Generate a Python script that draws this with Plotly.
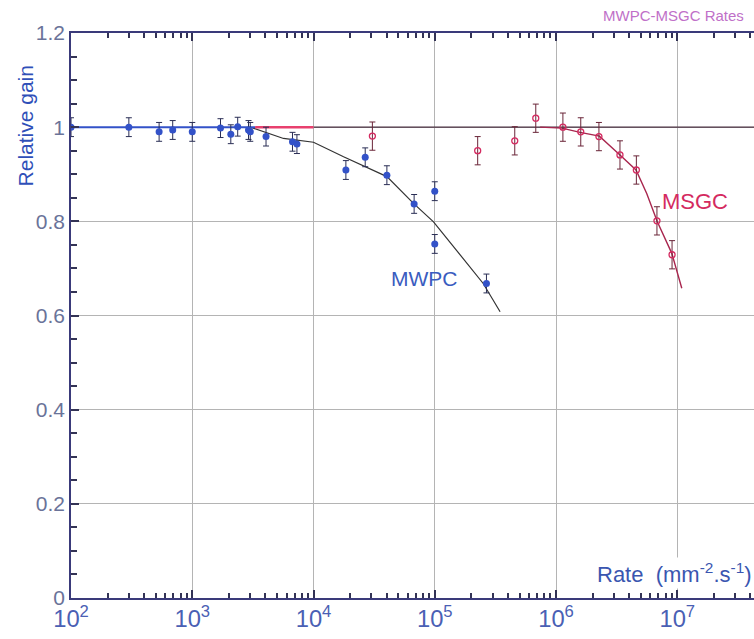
import plotly.graph_objects as go

# ---- data ----
mwpc_rate = [100, 300, 533, 690, 1000, 1710, 2080, 2370, 2910, 3010, 4060, 6710, 7300,
             18500, 26700, 40300, 67600, 100000, 100000, 267000]
mwpc_gain = [1.0, 1.0, 0.990, 0.994, 0.990, 0.998, 0.985, 1.001, 0.994, 0.990, 0.980, 0.969, 0.964,
             0.909, 0.936, 0.898, 0.837, 0.864, 0.752, 0.668]
mwpc_err = [0.02] * len(mwpc_rate)

msgc_rate = [30600, 226000, 457000, 681000, 1140000, 1600000, 2260000, 3370000, 4600000, 6800000, 9060000]
msgc_gain = [0.981, 0.950, 0.971, 1.019, 1.000, 0.990, 0.980, 0.941, 0.909, 0.801, 0.729]
msgc_err = [0.03] * len(msgc_rate)

# flat parts of the curves
mwpc_flat_rate = [100, 3300]
mwpc_flat_gain = [1.0, 1.0]
msgc_flat_rate = [3300, 10000]
msgc_flat_gain = [1.0, 1.0]
unity_rate = [10000, 60000000]
unity_gain = [1.0, 1.0]

# fitted curves
mwpc_fit_rate = [3000, 5660, 10000, 17700, 40300, 66800, 97700, 151000, 251000, 346000]
mwpc_fit_gain = [1.0, 0.976, 0.968, 0.937, 0.895, 0.838, 0.799, 0.739, 0.668, 0.608]
msgc_fit_rate = [740000, 1120000, 1580000, 2280000, 3370000, 4570000, 5600000, 6850000, 9020000, 10900000]
msgc_fit_gain = [1.0, 0.998, 0.989, 0.981, 0.941, 0.909, 0.859, 0.799, 0.732, 0.658]

# axis ticks (labels 10^2 ... 10^7 on x, 0 ... 1.2 on y)
x_decades = [2, 3, 4, 5, 6, 7]
x_tick_labels = ["10<sup>%d</sup>" % d for d in x_decades]
y_tick_vals = [0, 0.2, 0.4, 0.6, 0.8, 1.0, 1.2]
y_tick_labels = ["0", "0.2", "0.4", "0.6", "0.8", "1", "1.2"]

BLUE = "#3352c8"
RED = "#d42a60"
FONT = "Liberation Sans, Arial, sans-serif"

fig = go.Figure()

fig.add_trace(go.Scatter(x=unity_rate, y=unity_gain, mode="lines",
                         line=dict(color="#4a3040", width=1.2), hoverinfo="skip"))
fig.add_trace(go.Scatter(x=mwpc_fit_rate, y=mwpc_fit_gain, mode="lines",
                         line=dict(color="#333333", width=1.2), hoverinfo="skip"))
fig.add_trace(go.Scatter(x=msgc_fit_rate, y=msgc_fit_gain, mode="lines",
                         line=dict(color="#a8264e", width=1.4), hoverinfo="skip"))
fig.add_trace(go.Scatter(x=mwpc_flat_rate, y=mwpc_flat_gain, mode="lines",
                         line=dict(color=BLUE, width=2), hoverinfo="skip"))
fig.add_trace(go.Scatter(x=msgc_flat_rate, y=msgc_flat_gain, mode="lines",
                         line=dict(color="#e8406e", width=2.5), hoverinfo="skip"))

fig.add_trace(go.Scatter(
    x=mwpc_rate, y=mwpc_gain, mode="markers", name="MWPC",
    marker=dict(color=BLUE, size=7, symbol="circle"),
    error_y=dict(type="data", array=mwpc_err, color="#2a2e55", thickness=1, width=3)))
fig.add_trace(go.Scatter(
    x=msgc_rate, y=msgc_gain, mode="markers", name="MSGC",
    marker=dict(color=RED, size=6, symbol="circle-open", line=dict(width=1.3)),
    error_y=dict(type="data", array=msgc_err, color="#6a2538", thickness=1, width=3)))

fig.update_layout(
    width=754, height=639,
    margin=dict(l=71, r=0, t=33, b=41),
    paper_bgcolor="white", plot_bgcolor="white",
    showlegend=False,
    font=dict(family=FONT),
    xaxis=dict(type="log", range=[x_decades[0], 7.633],
               tickmode="linear", tick0=0, dtick=1,
               exponentformat="power", showexponent="all",
               tickfont=dict(size=19, color="#4a60b4"),
               ticks="inside", ticklen=8, tickcolor="#333355", tickwidth=1.5,
               showline=True, linecolor="#3a3a7a", linewidth=1.5, mirror="allticks",
               gridcolor="#b4b4b4", gridwidth=1.2,
               minor=dict(ticks="inside", ticklen=5, tickcolor="#333355", tickwidth=1.5,
                          dtick="D1"),
               zeroline=False),
    yaxis=dict(range=[y_tick_vals[0], y_tick_vals[-1]],
               tickfont=dict(size=21, color="#6a7399"),
               ticks="inside", ticklen=8, tickcolor="#333355", tickwidth=1.5,
               showline=True, linecolor="#3a3a7a", linewidth=1.5,
               gridcolor="#b4b4b4", gridwidth=1.2,
               minor=dict(ticks="inside", ticklen=6, tickcolor="#333355", tickwidth=1.5,
                          dtick=0.05),
               zeroline=False),
    annotations=[
        dict(text="Relative gain", xref="paper", yref="paper", x=-0.067, y=0.835,
             xanchor="center", yanchor="middle",
             textangle=-90, showarrow=False, font=dict(size=21, color="#2f4fb8")),
        dict(text="MWPC", xref="paper", yref="paper", x=0.517, y=0.566,
             showarrow=False, font=dict(size=21, color="#3a5cc0")),
        dict(text="MSGC", xref="paper", yref="paper", x=0.862, xanchor="left", y=0.727,
             showarrow=False, font=dict(size=22, color=RED)),
        dict(text="Rate  (mm<sup>-2</sup>.s<sup>-1</sup>)", xref="paper", yref="paper",
             x=1.0, xanchor="right", y=0.044, yanchor="middle", showarrow=False,
             bgcolor="white", font=dict(size=22, color="#3a56b0")),
        dict(text="MWPC-MSGC Rates", xref="paper", yref="paper", x=0.988, xanchor="right",
             y=1.0, yanchor="bottom", yshift=7, showarrow=False,
             font=dict(size=15, color="#c070c8")),
    ],
)

fig.write_html("out.html")
